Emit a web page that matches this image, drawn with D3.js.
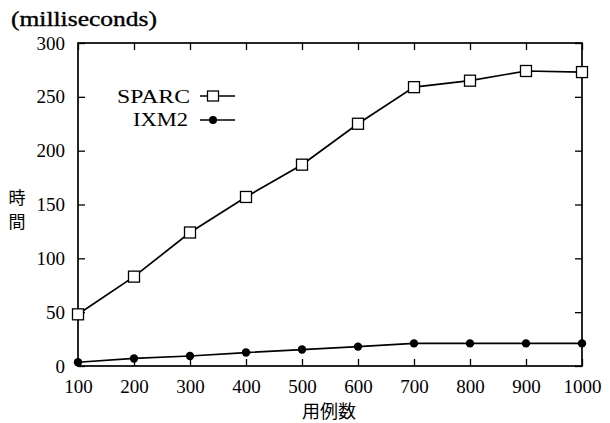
<!DOCTYPE html>
<html><head><meta charset="utf-8">
<script src="https://cdn.jsdelivr.net/npm/d3@7"></script>
<style>body{margin:0;background:#fff}svg{display:block}</style>
</head><body>
<script>
const xValues = [100,200,300,400,500,600,700,800,900,1000];
const sparc = [48,83,124,157,187,225,259,265,274,273];
const ixm2 = [3.5,7,9.3,12.5,15.3,18,21,21,21,21];
const xTicks = [100,200,300,400,500,600,700,800,900,1000];
const yTicks = [0,50,100,150,200,250,300];
const seriesNames = ["SPARC","IXM2"];

const W=610,H=423;
const m={l:78,r:582,t:43,b:366};
const svg=d3.select("body").append("svg").attr("width",W).attr("height",H);
const x=d3.scaleLinear().domain([100,1000]).range([m.l,m.r]);
const y=d3.scaleLinear().domain([0,300]).range([m.b,m.t]);
const font="Liberation Serif, DejaVu Serif, serif";

// frame
svg.append("rect").attr("x",m.l).attr("y",m.t).attr("width",m.r-m.l).attr("height",m.b-m.t)
  .attr("fill","none").attr("stroke","#000").attr("stroke-width",1.7);

// axes
const ax=svg.append("g").attr("transform",`translate(0,${m.b})`)
  .call(d3.axisBottom(x).tickValues(xTicks).tickSize(-7).tickPadding(14).tickFormat(d3.format("d")));
const axT=svg.append("g").attr("transform",`translate(0,${m.t})`)
  .call(d3.axisTop(x).tickValues(xTicks).tickSize(-7).tickFormat(""));
const ay=svg.append("g").attr("transform",`translate(${m.l},0)`)
  .call(d3.axisLeft(y).tickValues(yTicks).tickSize(-7).tickPadding(13));
const ayR=svg.append("g").attr("transform",`translate(${m.r},0)`)
  .call(d3.axisRight(y).tickValues(yTicks).tickSize(-7).tickFormat(""));
[ax,axT,ay,ayR].forEach(g=>{
  g.select(".domain").remove();
  g.selectAll(".tick line").attr("stroke","#000").attr("stroke-width",1.3);
  g.selectAll("text").attr("font-family",font).attr("font-size",19).attr("fill","#000");
});

// lines
const line=d3.line().x((d,i)=>x(xValues[i])).y(d=>y(d));
svg.append("path").datum(sparc).attr("d",line).attr("fill","none").attr("stroke","#000").attr("stroke-width",1.7);
svg.append("path").datum(ixm2).attr("d",line).attr("fill","none").attr("stroke","#000").attr("stroke-width",1.7);

svg.selectAll(".sq").data(sparc).enter().append("rect")
  .attr("x",(d,i)=>x(xValues[i])-5.5).attr("y",d=>y(d)-5.5).attr("width",11).attr("height",11)
  .attr("fill","#fff").attr("stroke","#000").attr("stroke-width",1.3);
svg.selectAll(".dot").data(ixm2).enter().append("circle")
  .attr("cx",(d,i)=>x(xValues[i])).attr("cy",d=>y(d)).attr("r",4.2).attr("fill","#000");

// legend
const lg=svg.append("g");
lg.append("text").attr("x",190).attr("y",103).attr("text-anchor","end").attr("font-family",font).attr("font-size",19)
  .attr("textLength",73).attr("lengthAdjust","spacingAndGlyphs").text(seriesNames[0]);
lg.append("line").attr("x1",200).attr("x2",235).attr("y1",96).attr("y2",96).attr("stroke","#000").attr("stroke-width",1.5);
lg.append("rect").attr("x",207.5).attr("y",91).attr("width",11).attr("height",10).attr("fill","#fff").attr("stroke","#000").attr("stroke-width",1.3);
lg.append("text").attr("x",188).attr("y",126).attr("text-anchor","end").attr("font-family",font).attr("font-size",19)
  .attr("textLength",55).attr("lengthAdjust","spacingAndGlyphs").text(seriesNames[1]);
lg.append("line").attr("x1",200).attr("x2",235).attr("y1",120).attr("y2",120).attr("stroke","#000").attr("stroke-width",1.5);
lg.append("circle").attr("cx",213).attr("cy",120).attr("r",4).attr("fill","#000");

// labels
svg.append("text").attr("x",11).attr("y",26).attr("font-family",font).attr("font-size",20)
  .attr("stroke","#000").attr("stroke-width",0.35)
  .attr("textLength",146).attr("lengthAdjust","spacingAndGlyphs").text("(milliseconds)");
const cjk="Noto Sans CJK JP, sans-serif";
svg.append("text").attr("x",17).attr("y",204).attr("text-anchor","middle").attr("font-family",cjk).attr("font-size",17).text("時");
svg.append("text").attr("x",17).attr("y",228).attr("text-anchor","middle").attr("font-family",cjk).attr("font-size",17).text("間");
svg.append("text").attr("x",329).attr("y",418).attr("text-anchor","middle").attr("font-family",cjk).attr("font-size",18).text("用例数");
</script>
</body></html>
